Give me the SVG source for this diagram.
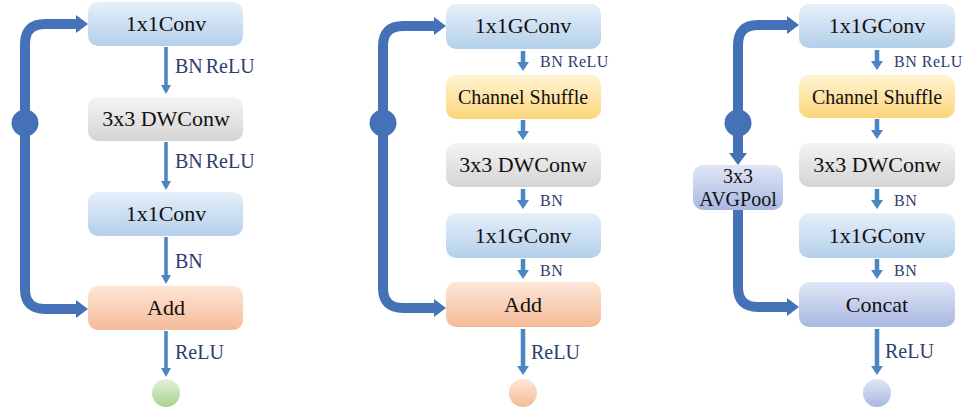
<svg xmlns="http://www.w3.org/2000/svg" width="968" height="412" viewBox="0 0 968 412">
<style>
.nt{font-family:"Liberation Serif","Times New Roman",serif;font-size:22px;fill:#111111;text-anchor:middle}
.nt2{font-family:"Liberation Serif","Times New Roman",serif;font-size:20px;fill:#111111;text-anchor:middle}
.lb1{font-family:"Liberation Serif","Times New Roman",serif;font-size:20px;fill:#2e3e6e;word-spacing:-2px}
.lb2{font-family:"Liberation Serif","Times New Roman",serif;font-size:16px;fill:#2e3e6e;letter-spacing:0.5px}
.lbr{font-family:"Liberation Serif","Times New Roman",serif;font-size:20px;fill:#2e3e6e}
.skip{fill:none;stroke:#4572b6;stroke-width:10;marker-start:url(#bigArr);marker-end:url(#bigArr)}
.skipE{fill:none;stroke:#4572b6;stroke-width:10;marker-end:url(#bigArr)}
.dot{fill:#4572b6}
.sm{fill:none;stroke:#4a85c4;stroke-width:3.5;marker-end:url(#smArr)}
.sm2{fill:none;stroke:#4a85c4;stroke-width:4.5;marker-end:url(#smArr2)}
</style>
<defs>
<marker id="bigArr" viewBox="0 0 12 18" refX="2" refY="9" markerWidth="12" markerHeight="18" markerUnits="userSpaceOnUse" orient="auto-start-reverse"><path d="M0,0 L12,9 L0,18 z" fill="#4572b6"/></marker>
<marker id="smArr" viewBox="0 0 9 10" refX="1" refY="5" markerWidth="9" markerHeight="10" markerUnits="userSpaceOnUse" orient="auto"><path d="M0,0 L9,5 L0,10 z" fill="#4a85c4"/></marker>
<marker id="smArr2" viewBox="0 0 9 12" refX="1" refY="6" markerWidth="9" markerHeight="12" markerUnits="userSpaceOnUse" orient="auto"><path d="M0,0 L9,6 L0,12 z" fill="#4a85c4"/></marker>
<linearGradient id="gBlue" x1="0" y1="0" x2="0" y2="1"><stop offset="0" stop-color="#e6f0fa"/><stop offset="1" stop-color="#b3cfea"/></linearGradient>
<linearGradient id="gGray" x1="0" y1="0" x2="0" y2="1"><stop offset="0" stop-color="#f4f4f4"/><stop offset="1" stop-color="#d4d4d4"/></linearGradient>
<linearGradient id="gYel" x1="0" y1="0" x2="0" y2="1"><stop offset="0" stop-color="#fff4d3"/><stop offset="1" stop-color="#fcd57a"/></linearGradient>
<linearGradient id="gOr" x1="0" y1="0" x2="0" y2="1"><stop offset="0" stop-color="#fde6d8"/><stop offset="1" stop-color="#f5bb97"/></linearGradient>
<linearGradient id="gLav" x1="0" y1="0" x2="0" y2="1"><stop offset="0" stop-color="#e0e6f6"/><stop offset="1" stop-color="#a9b8e2"/></linearGradient>
<linearGradient id="gGreen" x1="0" y1="0" x2="0" y2="1"><stop offset="0" stop-color="#e4f1dc"/><stop offset="1" stop-color="#a8d18d"/></linearGradient>
</defs>

<g id="connectors">
<!-- panel 1 -->
<path class="skip" d="M78 24 H45 Q25 24 25 44 V289 Q25 309 45 309 H78"/>
<circle class="dot" cx="25" cy="123" r="13.5"/>
<path class="sm" d="M166 47 V86"/>
<path class="sm" d="M166 142 V182"/>
<path class="sm" d="M166 237 V276"/>
<path class="sm" d="M166 331 V369"/>
<text class="lb1" x="175" y="73">BN ReLU</text>
<text class="lb1" x="175" y="168">BN ReLU</text>
<text class="lb1" x="175" y="268">BN</text>
<text class="lb1" x="175" y="359">ReLU</text>
<!-- panel 2 -->
<path class="skip" d="M436 26 H403 Q383 26 383 46 V288 Q383 308 403 308 H436"/>
<circle class="dot" cx="383" cy="123" r="13.5"/>
<path class="sm2" d="M523 51 V63"/>
<path class="sm2" d="M523 120 V132"/>
<path class="sm2" d="M523 189 V201"/>
<path class="sm2" d="M523 259 V271"/>
<path class="sm2" d="M523 329 V367"/>
<text class="lb2" x="540" y="67">BN ReLU</text>
<text class="lb2" x="540" y="206">BN</text>
<text class="lb2" x="540" y="276">BN</text>
<text class="lbr" x="531" y="359">ReLU</text>
<!-- panel 3 -->
<path class="skip" d="M738 155 V45 Q738 25 758 25 H789"/>
<circle class="dot" cx="738" cy="123" r="13.5"/>
<path class="skipE" d="M738 210 V287 Q738 307 758 307 H789"/>
<path class="sm2" d="M877 50 V62"/>
<path class="sm2" d="M877 119 V131"/>
<path class="sm2" d="M877 189 V201"/>
<path class="sm2" d="M877 259 V271"/>
<path class="sm2" d="M877 329 V367"/>
<text class="lb2" x="894" y="67">BN ReLU</text>
<text class="lb2" x="894" y="206">BN</text>
<text class="lb2" x="894" y="276">BN</text>
<text class="lbr" x="885" y="358">ReLU</text>
</g>

<!-- panel 1 nodes -->
<g id="p1-conv1"><rect x="88" y="2" width="155" height="44" rx="10" fill="url(#gBlue)"/><text class="nt" x="166" y="31">1x1Conv</text></g>
<g id="p1-dw"><rect x="88" y="97" width="155" height="44" rx="10" fill="url(#gGray)"/><text class="nt" x="166" y="126">3x3 DWConw</text></g>
<g id="p1-conv2"><rect x="88" y="192" width="155" height="44" rx="10" fill="url(#gBlue)"/><text class="nt" x="166" y="221">1x1Conv</text></g>
<g id="p1-add"><rect x="88" y="286" width="155" height="44" rx="10" fill="url(#gOr)"/><text class="nt" x="166" y="315">Add</text></g>
<g id="p1-out"><circle cx="166" cy="393" r="14" fill="url(#gGreen)"/></g>

<!-- panel 2 nodes -->
<g id="p2-gconv1"><rect x="446" y="4" width="155" height="45" rx="10" fill="url(#gBlue)"/><text class="nt" x="523" y="33">1x1GConv</text></g>
<g id="p2-shuffle"><rect x="446" y="75" width="155" height="44" rx="10" fill="url(#gYel)"/><text class="nt2" x="523" y="104">Channel Shuffle</text></g>
<g id="p2-dw"><rect x="446" y="143" width="155" height="44" rx="10" fill="url(#gGray)"/><text class="nt" x="523" y="172">3x3 DWConw</text></g>
<g id="p2-gconv2"><rect x="446" y="213" width="155" height="45" rx="10" fill="url(#gBlue)"/><text class="nt" x="523" y="243">1x1GConv</text></g>
<g id="p2-add"><rect x="446" y="282" width="155" height="45" rx="10" fill="url(#gOr)"/><text class="nt" x="523" y="312">Add</text></g>
<g id="p2-out"><circle cx="523" cy="393" r="14" fill="url(#gOr)"/></g>

<!-- panel 3 nodes -->
<g id="p3-gconv1"><rect x="799" y="4" width="156" height="44" rx="10" fill="url(#gBlue)"/><text class="nt" x="877" y="33">1x1GConv</text></g>
<g id="p3-shuffle"><rect x="799" y="75" width="156" height="43" rx="10" fill="url(#gYel)"/><text class="nt2" x="877" y="104">Channel Shuffle</text></g>
<g id="p3-dw"><rect x="799" y="143" width="156" height="44" rx="10" fill="url(#gGray)"/><text class="nt" x="877" y="172">3x3 DWConw</text></g>
<g id="p3-gconv2"><rect x="799" y="213" width="156" height="45" rx="10" fill="url(#gBlue)"/><text class="nt" x="877" y="243">1x1GConv</text></g>
<g id="p3-concat"><rect x="799" y="282" width="156" height="45" rx="10" fill="url(#gLav)"/><text class="nt" x="877" y="312">Concat</text></g>
<g id="p3-pool"><rect x="693" y="165" width="90" height="45" rx="10" fill="url(#gLav)"/><text class="nt2" x="738" y="183">3x3</text><text class="nt2" x="738" y="206">AVGPool</text></g>
<g id="p3-out"><circle cx="877" cy="393" r="14" fill="url(#gLav)"/></g>
</svg>
